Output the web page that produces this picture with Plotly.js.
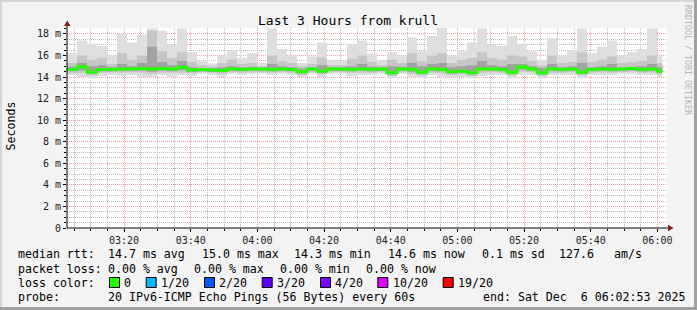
<!DOCTYPE html>
<html><head><meta charset="utf-8">
<script src="https://cdn.plot.ly/plotly-3.0.1.min.js"></script>
<style>html,body{margin:0;padding:0;background:#f3f3f3;}#chart{width:697px;height:310px;}</style>
</head><body><div id="chart"></div>
<script>
// ---- data (3-minute buckets, seconds shown in ms "m") ----
const seriesStart = '2025-12-06T03:02:53Z';
const stepMinutes = 3;
const seriesEnd = '2025-12-06 06:01:30';
const rangeStart = '2025-12-06 03:02:53';
const rangeEnd = '2025-12-06 06:02:53';

const pingMax = [16.2,17.4,17.1,16.9,16.0,18.0,17.2,17.9,18.5,18.3,
 17.0,18.5,16.3,15.5,15.25,16.0,16.5,15.8,16.2,15.3,
 18.5,16.6,16.0,15.3,15.9,17.2,15.6,15.5,17.0,17.4,
 16.2,15.6,16.3,16.0,17.7,16.4,17.8,18.6,16.0,16.4,
 17.2,18.5,17.0,16.9,17.8,17.1,16.4,15.6,17.6,16.0,
 16.5,18.5,16.2,16.8,17.4,16.0,16.3,16.6,18.5,16.0];
const pingHigh2 = [15.3,16.0,15.6,15.8,15.2,16.2,15.6,16.0,18.3,16.4,
 15.8,16.3,15.4,15.1,15.0,15.3,15.6,15.2,15.3,15.0,
 16.0,15.5,15.3,15.0,15.2,15.8,15.1,15.1,15.7,16.0,
 15.4,15.1,15.6,15.3,16.2,15.5,16.0,16.2,15.3,15.6,
 15.8,16.3,15.8,15.6,16.0,15.9,15.5,15.1,16.0,15.3,
 15.4,16.3,15.4,15.6,15.9,15.3,15.4,15.5,16.0,15.3];
const pingHigh3 = [14.95,15.3,15.0,15.1,14.9,15.2,15.0,15.3,16.8,15.4,
 15.1,15.5,14.9,14.85,14.85,14.9,15.0,14.9,14.95,14.9,
 15.2,15.0,14.9,14.8,14.9,15.1,14.9,14.9,15.0,15.2,
 14.95,14.9,15.0,14.95,15.3,15.0,15.2,15.3,14.9,15.0,
 15.1,15.5,15.1,15.0,15.2,15.2,15.0,14.85,15.2,14.9,
 15.0,15.3,14.9,15.0,15.2,14.9,14.95,15.0,15.2,14.9];
const medianRtt = [14.7,14.95,14.45,14.7,14.7,14.75,14.75,14.8,14.75,14.8,
 14.75,14.9,14.65,14.7,14.65,14.6,14.75,14.7,14.75,14.75,
 14.7,14.75,14.7,14.5,14.75,14.55,14.75,14.75,14.7,14.75,
 14.7,14.75,14.4,14.75,14.7,14.45,14.75,14.7,14.5,14.55,
 14.4,14.75,14.75,14.7,14.45,14.95,14.75,14.4,14.75,14.7,
 14.75,14.45,14.7,14.75,14.7,14.75,14.8,14.7,14.75,14.55];
const pingLow3 = [14.55,14.6,14.3,14.55,14.55,14.6,14.6,14.6,14.5,14.6,
 14.55,14.65,14.5,14.55,14.5,14.45,14.6,14.55,14.6,14.6,
 14.55,14.6,14.55,14.35,14.6,14.4,14.6,14.6,14.55,14.6,
 14.55,14.6,14.25,14.6,14.5,14.3,14.6,14.55,14.35,14.4,
 14.25,14.6,14.6,14.55,14.3,14.7,14.6,14.25,14.6,14.55,
 14.6,14.3,14.55,14.6,14.55,14.6,14.65,14.55,14.6,14.4];
const pingLow2 = [14.4,14.4,14.15,14.4,14.45,14.4,14.45,14.4,14.3,14.4,
 14.4,14.4,14.35,14.45,14.4,14.3,14.45,14.4,14.45,14.45,
 14.4,14.45,14.4,14.2,14.45,14.25,14.45,14.45,14.4,14.4,
 14.4,14.45,14.1,14.45,14.3,14.15,14.4,14.35,14.2,14.25,
 14.1,14.4,14.45,14.4,14.15,14.5,14.45,14.1,14.4,14.4,
 14.45,14.15,14.4,14.45,14.4,14.45,14.5,14.4,14.45,14.25];
const pingMin = [14.2,14.0,13.9,14.1,14.2,14.1,14.2,14.0,14.0,14.2,
 14.0,14.2,14.1,14.3,14.2,14.0,14.3,14.2,14.3,14.3,
 14.2,14.3,14.2,14.0,14.3,14.0,14.3,14.3,14.1,14.2,
 14.2,14.3,13.9,14.3,14.0,13.9,14.2,14.0,14.0,14.0,
 13.9,14.1,14.2,14.2,13.9,14.2,14.2,13.9,14.2,14.2,
 14.2,13.9,14.2,14.2,14.2,14.3,14.3,14.2,14.2,14.0];

const yTickValues = [0,2,4,6,8,10,12,14,16,18];
const yTickLabels = ['0','2 m','4 m','6 m','8 m','10 m','12 m','14 m','16 m','18 m'];

const titleText = 'Last 3 Hours from krull';
const yTitle = 'Seconds';
const lossLabels = ['0','1/20','2/20','3/20','4/20','10/20','19/20'];
const lossColors = ['#26ff00','#00b8ff','#0059ff','#5e00ff','#7e00ff','#dd00ff','#ff0000'];
const rttLine = ['median rtt:','14.7 ms avg','15.0 ms max','14.3 ms min','14.6 ms now','0.1 ms sd','127.6','am/s'];
const lossLine = ['packet loss:','0.00 % avg','0.00 % max','0.00 % min','0.00 % now'];
const probeLine = ['probe:','20 IPv6-ICMP Echo Pings (56 Bytes) every 60s','end: Sat Dec\u00a0\u00a06 06:02:53 2025'];

// ---- geometry helpers (pixel -> paper) ----
const PL = 67, PW = 600, PB = 228, PH = 200;
const X = px => (px - PL) / PW;
const Y = py => (PB - py) / PH;

function fmt(ms){ return new Date(ms).toISOString().replace('T',' ').slice(0,19); }
const t0 = Date.parse(seriesStart);
const times = pingMax.map((_, i) => fmt(t0 + i * stepMinutes * 60000));
times.push(seriesEnd);
const ext = a => a.concat([a[a.length - 1]]);

const traces = [];
function band(lo, hi, color){
  traces.push({x: times, y: ext(lo), mode: 'lines', line: {width: 0, shape: 'hv'}, hoverinfo: 'skip', showlegend: false});
  traces.push({x: times, y: ext(hi), mode: 'lines', line: {width: 0, shape: 'hv'}, fill: 'tonexty', fillcolor: color, hoverinfo: 'skip', showlegend: false});
}
band(pingMin, pingMax, '#dedede');
band(pingLow2, pingHigh2, '#c6c6c6');
band(pingLow3, pingHigh3, '#a2a2a2');
traces.push({x: times, y: ext(medianRtt), mode: 'lines', line: {color: lossColors[0], width: 3, shape: 'hv'}, hoverinfo: 'skip', showlegend: false});

const mono = 'DejaVu Sans Mono, monospace';
const ann = [];
function txt(s, px, py, size){
  ann.push({text: s, xref: 'paper', yref: 'paper', x: X(px), y: Y(py), xanchor: 'left', yanchor: 'middle',
    showarrow: false, borderpad: 0, font: {family: mono, size: size || 11.6, color: '#000'}});
}
const rttX = [16.7,107.3,200.5,293.3,386.7,481,558.3,613.3];
rttLine.forEach((s,i) => txt(s, rttX[i], 254));
const lossX = [16.7,107.3,193.3,279.3,365];
lossLine.forEach((s,i) => txt(s, lossX[i], 268.5));
txt('loss color:', 16.7, 282.5);
const boxX = [109,145.7,204,261.7,320,377.3,442.7];
const shapes = [];
lossLabels.forEach((s,i) => {
  shapes.push({type: 'rect', xref: 'paper', yref: 'paper', x0: X(boxX[i] + 0.5), x1: X(boxX[i] + 10.5), y0: Y(277.5), y1: Y(287.5),
    fillcolor: lossColors[i], line: {color: '#000', width: 1}});
  txt(s, boxX[i] + 14.3, 282.5);
});
const probeX = [16.7,107.3,481.7];
probeLine.forEach((s,i) => txt(s, probeX[i], 296.5));

ann.push({text: yTitle, xref: 'paper', yref: 'paper', x: X(10.5), y: Y(126), xanchor: 'center', yanchor: 'middle',
  textangle: -90, showarrow: false, font: {family: mono, size: 11.6, color: '#000'}});
ann.push({text: 'RRDTOOL / TOBI OETIKER', xref: 'paper', yref: 'paper', x: X(688), y: Y(60), xanchor: 'center', yanchor: 'middle',
  textangle: 90, showarrow: false, font: {family: mono, size: 8.3, color: '#b4b4b4'}});

// axis extensions and arrows
shapes.push({type: 'line', xref: 'paper', yref: 'paper', x0: X(67), x1: X(67), y0: Y(228), y1: Y(22), line: {color: '#000', width: 1}});
shapes.push({type: 'line', xref: 'paper', yref: 'paper', x0: X(67), x1: X(670), y0: Y(228), y1: Y(228), line: {color: '#000', width: 1}});
shapes.push({type: 'path', xref: 'paper', yref: 'paper', path: `M ${X(64)} ${Y(26)} L ${X(70.5)} ${Y(26)} L ${X(67.2)} ${Y(20.5)} Z`, fillcolor: '#8b1a1a', line: {width: 0}});
shapes.push({type: 'path', xref: 'paper', yref: 'paper', path: `M ${X(668)} ${Y(224.8)} L ${X(668)} ${Y(231.2)} L ${X(673.5)} ${Y(228)} Z`, fillcolor: '#8b1a1a', line: {width: 0}});
// frame
shapes.push({type: 'rect', xref: 'paper', yref: 'paper', x0: X(0), x1: X(697), y0: Y(0), y1: Y(2), fillcolor: '#d6d6d6', line: {width: 0}});
shapes.push({type: 'rect', xref: 'paper', yref: 'paper', x0: X(0), x1: X(2), y0: Y(0), y1: Y(310), fillcolor: '#d6d6d6', line: {width: 0}});
shapes.push({type: 'rect', xref: 'paper', yref: 'paper', x0: X(0), x1: X(697), y0: Y(307), y1: Y(310), fillcolor: '#a0a0a0', line: {width: 0}});
shapes.push({type: 'rect', xref: 'paper', yref: 'paper', x0: X(694), x1: X(697), y0: Y(0), y1: Y(310), fillcolor: '#a0a0a0', line: {width: 0}});

const gridMajor = '#f0a0a0', gridMinor = '#bdbdbd';
const layout = {
  width: 697, height: 310,
  paper_bgcolor: '#f3f3f3', plot_bgcolor: '#ffffff',
  margin: {l: 67, r: 30, t: 28, b: 82, pad: 0},
  showlegend: false,
  title: {text: titleText, x: 348 / 697, xanchor: 'center', y: 1 - 20 / 310, yanchor: 'middle',
    font: {family: mono, size: 13, color: '#000'}},
  xaxis: {type: 'date', range: [rangeStart, rangeEnd], tick0: '2025-12-06 03:00:00', dtick: 1200000, tickformat: '%H:%M',
    showgrid: true, gridcolor: gridMajor, griddash: '1px,1px', gridwidth: 1,
    minor: {tick0: '2025-12-06 03:00:00', dtick: 300000, showgrid: true, gridcolor: gridMinor, griddash: '1px,1px', gridwidth: 1,
      ticks: 'outside', ticklen: 2, tickcolor: '#000'},
    ticks: 'outside', ticklen: 3, tickcolor: '#000', showline: false, zeroline: false,
    tickfont: {family: mono, size: 10, color: '#222'}, fixedrange: true},
  yaxis: {range: [0, 18.55], tickmode: 'array', tickvals: yTickValues, ticktext: yTickLabels,
    showgrid: true, gridcolor: gridMajor, griddash: '1px,1px', gridwidth: 1,
    minor: {dtick: 0.5, tick0: 0, showgrid: true, gridcolor: gridMinor, griddash: '1px,1px', gridwidth: 1,
      ticks: 'outside', ticklen: 2, tickcolor: '#000'},
    ticks: 'outside', ticklen: 3, tickcolor: '#000', showline: false, zeroline: false,
    tickfont: {family: mono, size: 10, color: '#222'}, fixedrange: true},
  annotations: ann,
  shapes: shapes
};
Plotly.newPlot('chart', traces, layout, {staticPlot: true, displayModeBar: false});
</script></body></html>
